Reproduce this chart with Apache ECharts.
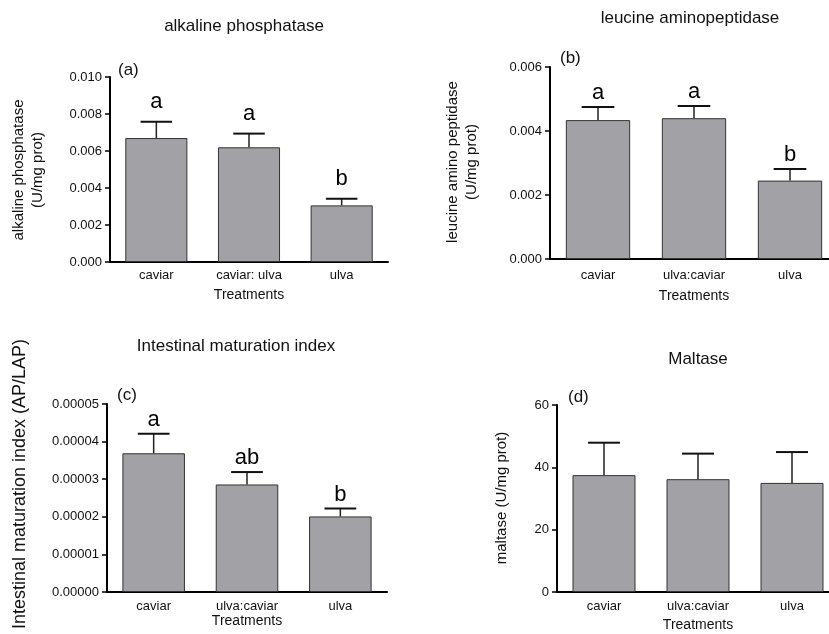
<!DOCTYPE html>
<html>
<head>
<meta charset="utf-8">
<script src="https://cdn.jsdelivr.net/npm/echarts@6/dist/echarts.min.js"></script>
<style>html,body{margin:0;padding:0;background:#fff}#c{width:829px;height:634px}</style>
</head>
<body>
<div id="c"></div>
<script>
// ---- data ----
var catsA = ['caviar', 'caviar: ulva', 'ulva'];
var catsB = ['caviar', 'ulva:caviar', 'ulva'];
var catsC = ['caviar', 'ulva:caviar', 'ulva'];
var catsD = ['caviar', 'ulva:caviar', 'ulva'];

var apMean = [0.0067, 0.0062, 0.00306];
var apErr = [0.00088, 0.00074, 0.00036];
var apLetters = ['a', 'a', 'b'];

var lapMean = [0.00434, 0.0044, 0.00245];
var lapErr = [0.00041, 0.00038, 0.00036];
var lapLetters = ['a', 'a', 'b'];

var imiMean = [0.0000369, 0.0000286, 0.0000201];
var imiErr = [0.0000052, 0.0000033, 0.0000021];
var imiLetters = ['a', 'ab', 'b'];

var maltMean = [37.5, 36.2, 35.0];
var maltErr = [10.4, 8.2, 9.9];
var maltLetters = ['', '', ''];

var yMaxA = 0.010, yStepA = 0.002;
var yMaxB = 0.006, yStepB = 0.002;
var yMaxC = 0.00005, yStepC = 0.00001;
var yMaxD = 60, yStepD = 20;

// ---- chart ----
var FONT = 'Liberation Sans, Arial, sans-serif';
var chart = echarts.init(document.getElementById('c'));

var panels = [
  {cats: catsA, mean: apMean, err: apErr, letters: apLetters, max: yMaxA, step: yStepA, dec: 3,
   grid: {left: 110, top: 77, width: 278, height: 185}, nameGap: 26, labelMargin: 7, letterGap: 9},
  {cats: catsB, mean: lapMean, err: lapErr, letters: lapLetters, max: yMaxB, step: yStepB, dec: 3,
   grid: {left: 550, top: 67, width: 288, height: 192}, nameGap: 30, labelMargin: 10, letterGap: 3},
  {cats: catsC, mean: imiMean, err: imiErr, letters: imiLetters, max: yMaxC, step: yStepC, dec: 5,
   grid: {left: 107, top: 404, width: 280, height: 188}, nameGap: 18, labelMargin: 8, letterGap: 3},
  {cats: catsD, mean: maltMean, err: maltErr, letters: maltLetters, max: yMaxD, step: yStepD, dec: 0,
   grid: {left: 557, top: 405, width: 282, height: 187}, nameGap: 26, labelMargin: 8, letterGap: 3}
];

var grids = [], xAxes = [], yAxes = [], series = [];
panels.forEach(function (p, i) {
  grids.push(Object.assign({containLabel: false, outerBoundsMode: 'none'}, p.grid));
  xAxes.push({
    type: 'category', gridIndex: i, data: p.cats,
    name: 'Treatments', nameLocation: 'middle', nameGap: p.nameGap,
    nameTextStyle: {fontFamily: FONT, fontSize: 14, color: '#111'},
    axisLine: {lineStyle: {color: '#000', width: 2}},
    axisTick: {alignWithLabel: true, length: 5, lineStyle: {color: '#000', width: 1.5}},
    axisLabel: {fontFamily: FONT, fontSize: 13, color: '#111', margin: p.labelMargin, interval: 0},
    splitLine: {show: false}
  });
  yAxes.push({
    type: 'value', gridIndex: i, min: 0, max: p.max, interval: p.step,
    axisLine: {show: true, lineStyle: {color: '#000', width: 2}},
    axisTick: {show: true, length: 5, lineStyle: {color: '#000', width: 1.5}},
    axisLabel: {fontFamily: FONT, fontSize: 13, color: '#111', margin: 8,
      formatter: (function (d) { return function (v) { return v.toFixed(d); }; })(p.dec)},
    splitLine: {show: false}
  });
  series.push({
    type: 'bar', xAxisIndex: i, yAxisIndex: i, data: p.mean, barWidth: '67%',
    itemStyle: {color: '#a2a2a6', borderColor: '#333', borderWidth: 1},
    silent: true, animation: false
  });
  var ed = p.mean.map(function (m, k) { return [k, m, m + p.err[k], p.letters[k]]; });
  series.push({
    type: 'custom', xAxisIndex: i, yAxisIndex: i, data: ed, animation: false, silent: true, z: 5,
    renderItem: (function (gap, ed) {
      return function (params, api) {
        var x = api.value(0);
        var base = api.coord([x, api.value(1)]);
        var top = api.coord([x, api.value(2)]);
        var half = api.size([1, 0])[0] * 0.17;
        var children = [
          {type: 'line', shape: {x1: base[0], y1: base[1], x2: top[0], y2: top[1]},
           style: {stroke: '#222', lineWidth: 1.5}},
          {type: 'line', shape: {x1: top[0] - half, y1: top[1], x2: top[0] + half, y2: top[1]},
           style: {stroke: '#111', lineWidth: 2}}
        ];
        var letter = ed[params.dataIndex][3];
        if (letter) {
          children.push({type: 'text', x: top[0], y: top[1] - gap,
            style: {text: letter, fontFamily: FONT, fontSize: 22, fill: '#000',
              align: 'center', verticalAlign: 'bottom'}});
        }
        return {type: 'group', children: children};
      };
    })(p.letterGap, ed)
  });
});

function titleAt(text, x, y) {
  return {type: 'text', x: x, y: y, style: {text: text, fontFamily: FONT, fontSize: 17, fill: '#111',
    align: 'center', verticalAlign: 'middle'}};
}
function tagAt(text, x, y) {
  return {type: 'text', x: x, y: y, style: {text: text, fontFamily: FONT, fontSize: 17, fill: '#111',
    align: 'left', verticalAlign: 'middle'}};
}
function yName(text, x, y, size) {
  return {type: 'text', x: x, y: y, rotation: Math.PI / 2,
    style: {text: text, fontFamily: FONT, fontSize: size, lineHeight: 19, fill: '#111',
      align: 'center', verticalAlign: 'middle'}};
}

chart.setOption({
  animation: false,
  grid: grids, xAxis: xAxes, yAxis: yAxes, series: series,
  graphic: [
    titleAt('alkaline phosphatase', 244, 26),
    titleAt('leucine aminopeptidase', 690, 18),
    titleAt('Intestinal maturation index', 236, 346),
    titleAt('Maltase', 698, 359),
    tagAt('(a)', 118, 70),
    tagAt('(b)', 560, 58),
    tagAt('(c)', 117, 395),
    tagAt('(d)', 568, 397),
    yName('alkaline phosphatase\n(U/mg prot)', 28, 170, 15),
    yName('leucine amino peptidase\n(U/mg prot)', 462, 162, 15),
    yName('Intestinal maturation index (AP/LAP)', 20, 484, 18),
    yName('maltase (U/mg prot)', 502, 498, 15)
  ]
});
</script>
</body>
</html>
